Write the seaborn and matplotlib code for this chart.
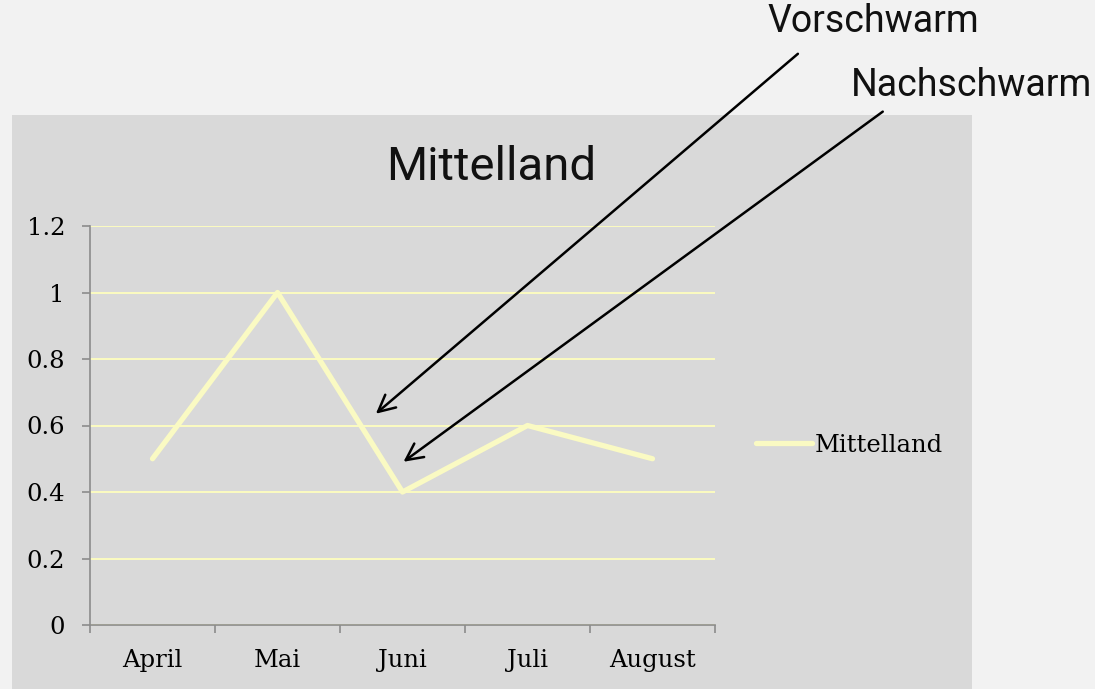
import pandas as pd
import matplotlib.pyplot as plt
import seaborn as sns
from matplotlib.patches import Rectangle
from matplotlib.ticker import FixedLocator, FuncFormatter

# data
months = ["April", "Mai", "Juni", "Juli", "August"]
values = [0.5, 1.0, 0.4, 0.6, 0.5]
y_ticks = [0, 0.2, 0.4, 0.6, 0.8, 1.0, 1.2]

df = pd.DataFrame({"Monat": months, "Mittelland": values})

sns.set_style("white")
plt.rcParams["font.family"] = ["DejaVu Serif"]
plt.rcParams["text.color"] = "black"
plt.rcParams["xtick.labelcolor"] = "black"
plt.rcParams["ytick.labelcolor"] = "black"

fig = plt.figure(figsize=(10.95, 6.89), dpi=100)
fig.patch.set_facecolor("#f2f2f2")
# chart area background
fig.patches.append(Rectangle((12 / 1095, 0), 960 / 1095, 574 / 689,
                             transform=fig.transFigure, facecolor="#d9d9d9",
                             edgecolor="none", zorder=-5))

ax = fig.add_axes([90 / 1095, 64 / 689, 625 / 1095, 399 / 689])
ax.set_facecolor("none")

line_col = "#fafac3"
sns.lineplot(data=df, x="Monat", y="Mittelland", ax=ax, color=line_col,
             linewidth=3.8, label="Mittelland", sort=False, zorder=3)

ax.set_xlim(-0.5, 4.5)
ax.set_ylim(0, 1.2)
ax.set_yticks(y_ticks)
ax.yaxis.set_major_formatter(FuncFormatter(lambda v, p: f"{v:g}"))
ax.xaxis.set_minor_locator(FixedLocator([i - 0.5 for i in range(len(months) + 1)]))
ax.tick_params(axis="x", which="major", bottom=True, length=0, pad=17,
               labelsize=17.5, labelcolor="black")
ax.tick_params(axis="x", which="minor", bottom=True, length=6, width=1.2, color="#8c8c8c")
ax.tick_params(axis="y", left=True, length=6, width=1.2, color="#8c8c8c", pad=12,
               labelsize=17.5, labelcolor="black")
ax.grid(axis="y", color="#fbfbc0", linewidth=1.4, zorder=1)
for s in ["top", "right"]:
    ax.spines[s].set_visible(False)
for s in ["left", "bottom"]:
    ax.spines[s].set_color("#8c8c8c")
    ax.spines[s].set_linewidth(1.2)
ax.set_xlabel("")
ax.set_ylabel("")

leg = ax.legend(loc="center left", bbox_to_anchor=(756 / 1095, 244 / 689),
                bbox_transform=fig.transFigure, frameon=False, fontsize=17.5,
                handlelength=2.3, handletextpad=0.12, borderpad=0,
                borderaxespad=0, labelcolor="black")

sans = ["Roboto", "DejaVu Sans"]
fig.text(491 / 1095, 522 / 689, "Mittelland", ha="center", va="center",
         fontsize=34, family=sans, color="#111111")

# annotation arrows
arrow = dict(arrowstyle="->", color="black", linewidth=1.8, mutation_scale=30)
ax.annotate("", xy=(1.77, 0.63), xytext=(800, 637), textcoords="figure pixels",
            arrowprops=arrow, annotation_clip=False)
ax.annotate("", xy=(1.99, 0.486), xytext=(885, 579), textcoords="figure pixels",
            arrowprops=arrow, annotation_clip=False)
fig.text(873 / 1095, 668 / 689, "Vorschwarm", ha="center", va="center",
         fontsize=27, family=sans, color="#111111")
fig.text(971 / 1095, 603 / 689, "Nachschwarm", ha="center", va="center",
         fontsize=27, family=sans, color="#111111")

fig.savefig("out.png", dpi=100, facecolor=fig.get_facecolor())
